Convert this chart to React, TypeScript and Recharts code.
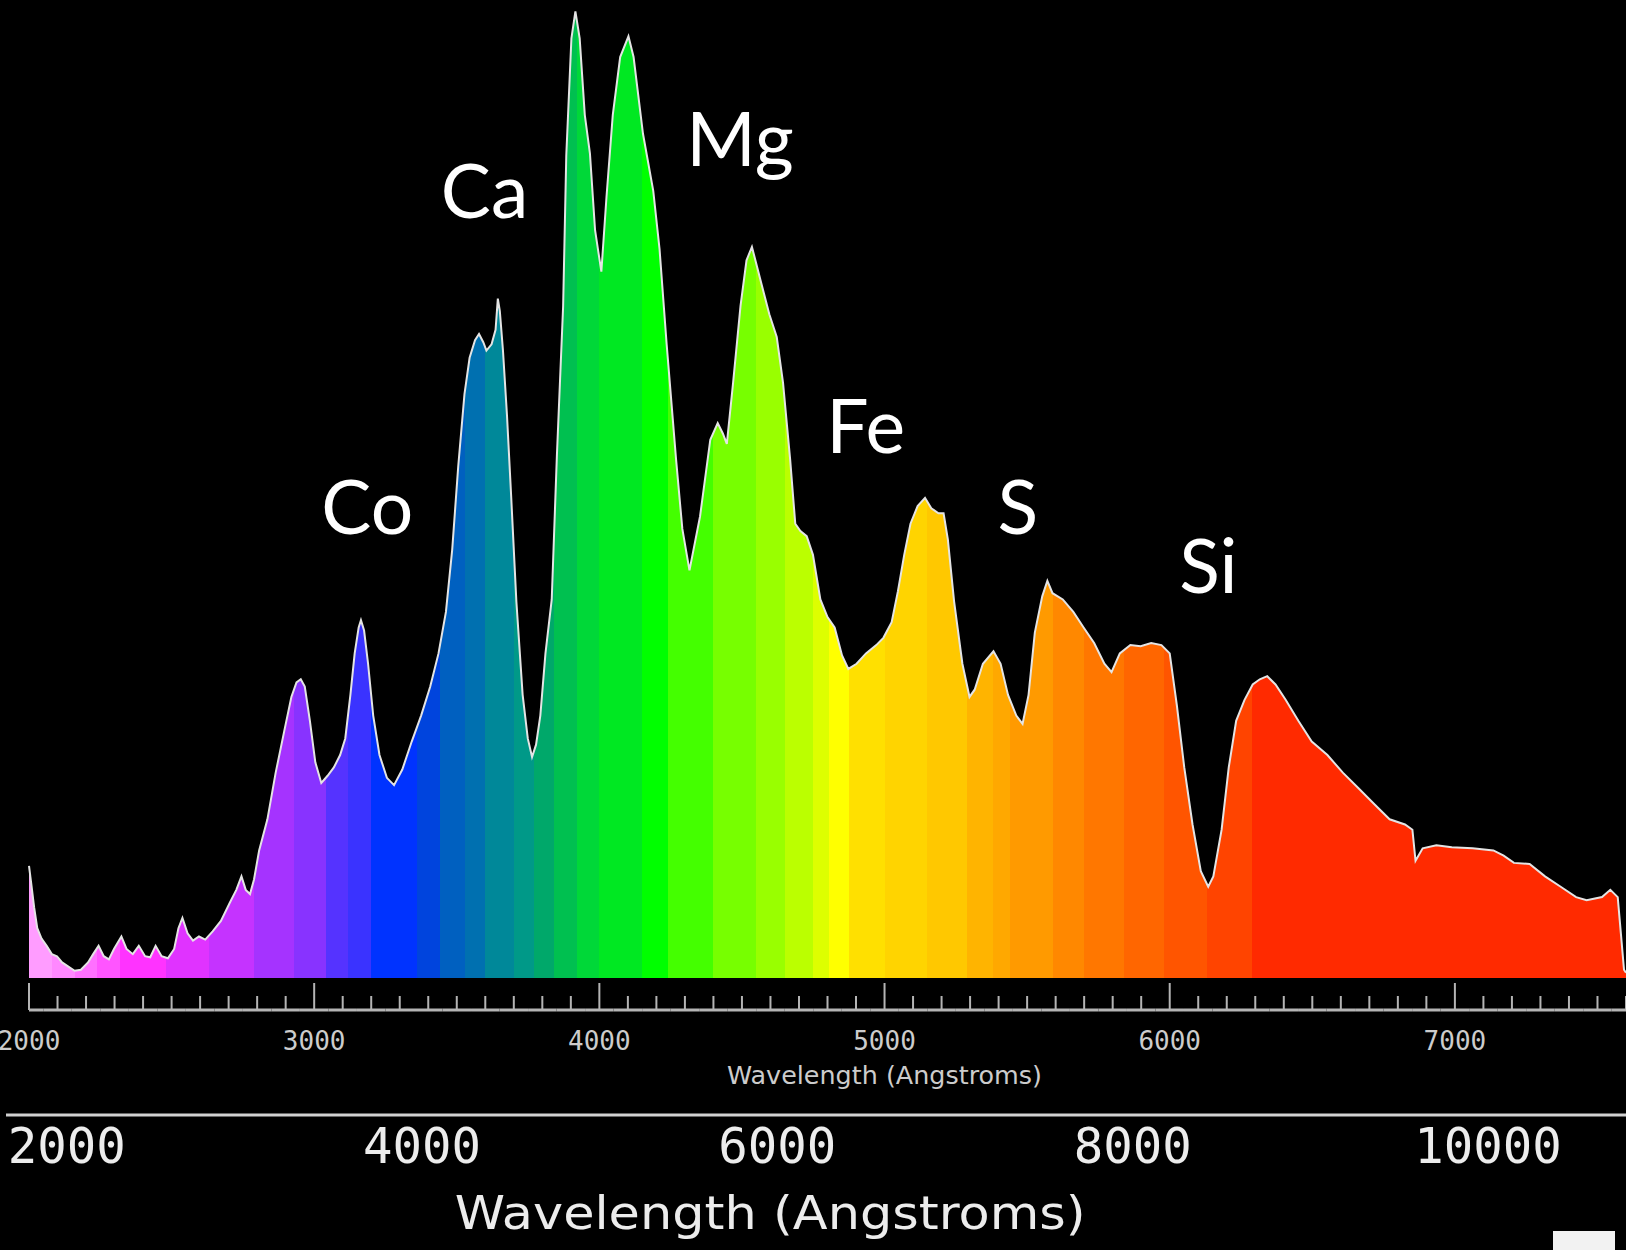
import React from 'react';
import { AreaChart, Area, XAxis, YAxis, ReferenceDot } from 'recharts';

// spectrum (wavelength in Angstroms, flux in arbitrary units)
const wavelengths = [
  2000, 2007, 2018, 2029, 2044, 2062, 2080, 2098, 2116, 2138, 2160, 2182, 2207, 2225, 2244, 2262,
  2280, 2298, 2324, 2342, 2364, 2385, 2407, 2425, 2444, 2465, 2487, 2509, 2524, 2538, 2556, 2575,
  2596, 2618, 2644, 2673, 2705, 2727, 2745, 2760, 2775, 2789, 2807, 2836, 2865, 2895, 2920, 2938,
  2953, 2967, 2985, 3004, 3025, 3047, 3069, 3091, 3109, 3127, 3142, 3156, 3164, 3175, 3189, 3207,
  3229, 3255, 3280, 3309, 3342, 3375, 3407, 3436, 3462, 3484, 3505, 3527, 3545, 3564, 3578, 3593,
  3604, 3622, 3636, 3644, 3651, 3662, 3676, 3691, 3709, 3731, 3749, 3764, 3778, 3793, 3811, 3833,
  3851, 3873, 3884, 3902, 3916, 3931, 3949, 3967, 3985, 4007, 4025, 4047, 4073, 4102, 4120, 4153,
  4189, 4211, 4236, 4269, 4291, 4316, 4353, 4389, 4415, 4433, 4447, 4469, 4495, 4516, 4535, 4564,
  4596, 4622, 4644, 4669, 4687, 4705, 4727, 4749, 4775, 4800, 4825, 4851, 4873, 4902, 4935, 4971,
  4996, 5025, 5047, 5069, 5091, 5116, 5142, 5164, 5189, 5207, 5222, 5244, 5273, 5298, 5316, 5345,
  5382, 5407, 5433, 5462, 5484, 5505, 5527, 5553, 5571, 5589, 5625, 5662, 5698, 5735, 5771, 5796,
  5825, 5862, 5898, 5935, 5971, 6000, 6025, 6051, 6080, 6109, 6135, 6153, 6182, 6207, 6233, 6262,
  6291, 6316, 6342, 6371, 6407, 6451, 6498, 6553, 6607, 6662, 6716, 6771, 6825, 6851, 6862, 6887,
  6935, 6989, 7062, 7135, 7171, 7207, 7262, 7316, 7371, 7425, 7462, 7516, 7545, 7571, 7582, 7593,
  7600,
];
const fluxes = [
  108, 93, 68, 48, 38, 31, 23, 21, 15, 11, 7, 8, 15, 23, 31, 21,
  18, 28, 40, 28, 23, 31, 21, 20, 31, 21, 19, 28, 48, 58, 43, 36,
  40, 37, 45, 55, 73, 85, 98, 85, 81, 95, 123, 153, 198, 238, 271, 285,
  288, 281, 248, 208, 188, 195, 203, 215, 231, 273, 313, 338, 345, 335, 303, 253,
  215, 193, 186, 201, 228, 253, 281, 313, 353, 413, 493, 563, 598, 615, 621, 613,
  605, 611, 625, 655, 643, 605, 543, 463, 363, 273, 231, 213, 225, 253, 313, 365,
  503, 648, 793, 906, 932, 906, 832, 795, 721, 681, 753, 832, 888, 908, 888, 814,
  759, 703, 611, 500, 433, 393, 445, 519, 535, 525, 515, 574, 648, 692, 705, 674,
  640, 618, 574, 500, 438, 431, 426, 408, 365, 348, 338, 311, 298, 303, 313, 321,
  328, 343, 373, 408, 438, 455, 463, 453, 448, 448, 423, 363, 303, 271, 278, 303,
  315, 303, 273, 253, 245, 273, 333, 368, 383, 371, 365, 353, 338, 323, 303, 295,
  313, 321, 320, 323, 321, 313, 263, 203, 148, 103, 88, 98, 143, 203, 248, 268,
  283, 288, 291, 283, 268, 248, 228, 215, 198, 183, 168, 153, 148, 143, 113, 125,
  128, 126, 125, 123, 118, 111, 110, 98, 88, 78, 75, 78, 85, 78, 43, 8,
  5,
];

const smallTicks = Array.from({ length: 57 }, (_, i) => 2000 + i * 100);
const bigTicks = [2000, 4000, 6000, 8000, 10000];

const elementNames = ['Co', 'Ca', 'Mg', 'Fe', 'S', 'Si'];
const elementWavelengths = [3025, 3444, 4305, 4796, 5396, 6033];
const elementFluxes = [428, 733, 783, 506, 428, 371];

// colour bands under the curve
const bandStarts = [
  2000, 2080, 2160, 2240, 2320, 2480, 2630, 2790, 2930, 3040, 3120, 3200, 3360, 3440, 3530, 3600,
  3700, 3770, 3840, 3920, 4000, 4150, 4240, 4400, 4550, 4650, 4750, 4805, 4875, 5000, 5150, 5290,
  5380, 5440, 5590, 5700, 5840, 5980, 6130, 6290,
];
const bandColors = [
  '#ff9cff', '#ff88ff', '#ff70ff', '#ff55ff', '#ff33ff', '#e033ff', '#c533ff', '#a533ff',
  '#8833ff', '#5533ff', '#3a33ff', '#0033ff', '#0044dd', '#0060c0', '#0070b0', '#008899',
  '#009988', '#00a86a', '#00c050', '#00d838', '#00e822', '#00ff00', '#44ff00', '#77ff00',
  '#99ff00', '#bbff00', '#ddff00', '#ffff00', '#ffe000', '#ffd400', '#ffc800', '#ffb400',
  '#ffa800', '#ff9a00', '#ff8800', '#ff7700', '#ff6600', '#ff5500', '#ff4400', '#ff2a00',
];

const X_MIN = 2000;
const X_MAX = 7600;
const BIG_MIN = 1788;
const BIG_MAX = 10777;

const data = wavelengths.map((wl, i) => ({ wl, flux: fluxes[i] }));

const axisGray = '#b4b4b4';

function SmallTick(props: any) {
  const { x, y, payload, width } = props;
  const v = payload.value;
  const major = v % 1000 === 0;
  const half = width / ((X_MAX - X_MIN) / 100) / 2;
  const lineY = y + 32;
  return (
    <g>
      <line x1={x} x2={x} y1={major ? y + 5 : y + 18} y2={lineY} stroke={axisGray} strokeWidth={2} />
      <line x1={v === X_MIN ? x : x - half} x2={x + half} y1={lineY} y2={lineY} stroke={axisGray} strokeWidth={3} />
      {major && (
        <text x={x} y={y + 72} textAnchor="middle" fill="#cccccc" fontFamily="DejaVu Sans Mono" fontSize={26}>
          {v}
        </text>
      )}
    </g>
  );
}

function BigTick(props: any) {
  const { x, y, payload } = props;
  return (
    <text x={x} y={y + 48} textAnchor="middle" fill="#ececec" fontFamily="DejaVu Sans Mono" fontSize={49}>
      {payload.value}
    </text>
  );
}

function smallTitle(props: any) {
  const { viewBox } = props;
  const cx = viewBox.x + ((5000 - X_MIN) / (X_MAX - X_MIN)) * viewBox.width;
  return (
    <text x={cx} y={viewBox.y + 106} textAnchor="middle" fill="#cccccc" fontFamily="DejaVu Sans"
      fontSize={25} textLength={315} lengthAdjust="spacingAndGlyphs">
      Wavelength (Angstroms)
    </text>
  );
}

function bigTitle(props: any) {
  const { viewBox } = props;
  const cx = viewBox.x + ((5960 - BIG_MIN) / (BIG_MAX - BIG_MIN)) * viewBox.width;
  return (
    <g>
      <line x1={viewBox.x - 23} x2={viewBox.x + viewBox.width} y1={viewBox.y} y2={viewBox.y}
        stroke="#d0d0d0" strokeWidth={3} />
      <text x={cx} y={viewBox.y + 114} textAnchor="middle" fill="#ececec" fontFamily="DejaVu Sans"
        fontSize={47} textLength={631} lengthAdjust="spacingAndGlyphs">
        Wavelength (Angstroms)
      </text>
    </g>
  );
}

export default function App() {
  return (
    <div style={{ position: 'absolute', left: 0, top: 0, width: 1626, height: 1250, background: '#000', overflow: 'hidden' }}>
      <AreaChart width={1626} height={1250} data={data} margin={{ top: 0, right: 0, bottom: 0, left: 29 }}>
        <defs>
          <linearGradient id="spectrum" x1="0" y1="0" x2="1" y2="0">
            {bandStarts.map((s, i) => {
              const end = i + 1 < bandStarts.length ? bandStarts[i + 1] : X_MAX;
              return [
                <stop key={`a${i}`} offset={(s - X_MIN) / (X_MAX - X_MIN)} stopColor={bandColors[i]} />,
                <stop key={`b${i}`} offset={(end - X_MIN) / (X_MAX - X_MIN)} stopColor={bandColors[i]} />,
              ];
            })}
          </linearGradient>
        </defs>
        <XAxis
          dataKey="wl"
          type="number"
          domain={[X_MIN, X_MAX]}
          ticks={smallTicks}
          interval={0}
          height={137}
          axisLine={false}
          tickLine={false}
          tickSize={0}
          tickMargin={0}
          tick={<SmallTick />}
          label={smallTitle}
        />
        <XAxis
          xAxisId="big"
          dataKey="wl"
          type="number"
          domain={[BIG_MIN, BIG_MAX]}
          allowDataOverflow
          ticks={bigTicks}
          interval={0}
          height={135}
          axisLine={false}
          tickLine={false}
          tickSize={0}
          tickMargin={0}
          tick={<BigTick />}
          label={bigTitle}
        />
        <YAxis hide domain={[0, 943]} allowDataOverflow />
        <Area
          type="linear"
          dataKey="flux"
          stroke="#e4e4e4"
          strokeWidth={2}
          fill="url(#spectrum)"
          fillOpacity={1}
          dot={false}
          activeDot={false}
          isAnimationActive={false}
        />
        {elementNames.map((name, i) => (
          <ReferenceDot
            key={name}
            x={elementWavelengths[i]}
            y={elementFluxes[i]}
            r={0}
            fill="none"
            stroke="none"
            label={(p: any) => (
              <text x={p.viewBox.x} y={p.viewBox.y} fill="#ffffff" fontFamily="Lato" fontSize={75}>
                {name}
              </text>
            )}
          />
        ))}
      </AreaChart>
      <div style={{ position: 'absolute', left: 1553, top: 1231, width: 62, height: 19, background: '#f2f2f2' }} />
    </div>
  );
}
